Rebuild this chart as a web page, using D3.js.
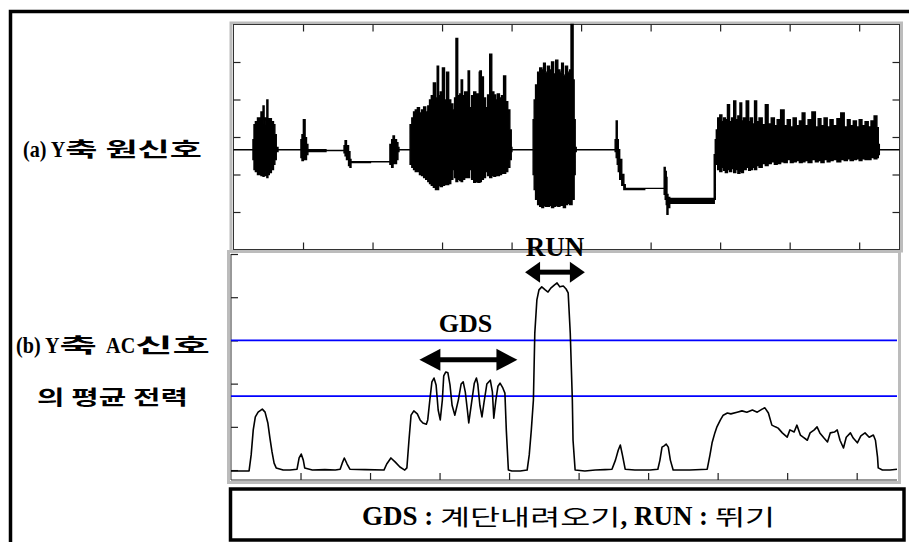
<!DOCTYPE html>
<html>
<head>
<meta charset="utf-8">
<script src="https://cdn.jsdelivr.net/npm/d3@7"></script>
<style>
  body { margin: 0; background: #fff; }
</style>
</head>
<body>
<div id="chart"></div>
<script>
// (a) raw Y-axis signal, drawn as a min/max envelope (time in tick units)
const rawT = [0.00,0.27,0.29,0.30,0.33,0.36,0.39,0.40,0.42,0.43,0.45,0.46,0.47,0.49,0.50,0.53,0.56,0.59,0.60,0.63,0.65,
  0.96,0.98,0.99,1.02,1.04,1.06,1.08,
  1.58,1.60,1.61,1.64,1.67,1.68,1.70,
  2.24,2.26,2.29,2.30,2.33,2.36,2.37,2.39,
  2.53,2.55,2.58,2.60,2.63,2.66,2.69,2.72,2.75,2.78,2.81,2.83,2.86,2.89,2.92,2.94,2.96,2.99,3.02,3.05,
  3.08,3.11,3.14,3.17,3.19,3.21,3.24,3.27,3.28,3.31,3.34,3.37,3.38,3.41,3.44,3.47,3.50,3.53,3.54,3.55,
  3.58,3.61,3.64,3.67,3.70,3.73,3.76,3.78,3.81,3.84,3.87,3.90,3.93,3.96,3.99,4.00,4.01,
  4.30,4.32,4.33,4.36,4.39,4.42,4.45,4.47,4.50,4.53,4.56,4.59,4.62,4.65,4.68,4.71,4.73,4.76,4.79,4.82,
  4.85,4.86,4.88,4.89,4.91,4.92,4.94,
  5.48,5.50,5.51,5.53,5.54,5.57,5.60,5.63,5.64,
  6.19,6.20,6.22,6.23,6.24,6.26,6.29,
  6.91,6.92,6.94,6.95,6.98,7.01,7.04,7.06,7.09,7.12,7.15,7.18,7.21,7.24,7.27,7.30,7.32,7.35,7.40,7.42,
  7.45,7.48,7.51,7.54,7.58,7.63,7.67,7.71,7.76,7.80,7.84,7.90,7.94,7.99,8.03,8.07,8.12,8.16,8.20,8.24,
  8.29,8.35,8.39,8.43,8.47,8.52,8.56,8.60,8.65,8.71,8.76,8.81,8.85,8.89,8.94,8.98,9.02,9.06,9.11,9.15,
  9.19,9.24,9.27,9.28,9.30,9.58];
const rawHi = [-0.34,-0.34,-0.07,0.33,0.41,0.51,0.41,0.67,0.35,0.83,0.46,0.51,0.33,0.99,0.46,0.49,0.41,0.33,0.06,-0.28,-0.34,
  -0.34,-0.07,0.06,0.46,-0.02,-0.20,-0.34,
  -0.36,-0.23,-0.10,-0.23,-0.39,-0.60,-0.66,
  -0.66,-0.20,-0.07,0.03,-0.07,-0.15,-0.28,-0.34,
  -0.34,0.33,0.51,0.67,0.72,0.78,0.64,0.72,0.80,0.67,0.83,0.99,1.10,1.44,1.04,1.89,1.10,1.20,1.84,0.99,
  1.73,0.99,0.88,0.72,1.04,2.63,1.10,1.15,1.52,1.10,1.20,1.04,1.76,0.78,1.10,1.20,1.15,1.10,1.73,1.76,
  1.60,1.04,0.78,1.12,2.21,1.20,1.12,0.99,1.15,1.04,1.10,1.63,0.94,0.72,0.19,-0.28,-0.34,
  -0.34,0.46,0.99,1.39,1.73,1.84,1.79,1.97,1.73,1.89,1.79,2.00,1.68,2.05,1.79,1.73,1.97,1.65,1.89,1.73,
  1.79,3.00,3.00,1.52,0.46,-0.28,-0.34,
  -0.34,-0.07,0.43,-0.07,-0.34,-0.60,-1.00,-1.27,-1.37,
  -1.37,-0.81,-0.92,-1.08,-1.53,-1.61,-1.64,
  -1.64,-0.47,-0.07,0.19,0.51,0.59,0.41,0.51,0.46,0.86,0.41,0.51,0.96,0.46,0.56,0.91,0.43,0.51,0.96,0.41,
  0.51,0.35,0.96,0.41,0.51,0.33,0.86,0.35,0.51,0.30,0.46,0.72,0.30,0.46,0.27,0.51,0.30,0.43,0.64,0.30,
  0.46,0.67,0.27,0.49,0.30,0.51,0.27,0.46,0.30,0.49,0.64,0.27,0.46,0.30,0.43,0.27,0.46,0.30,0.41,0.27,
  0.43,0.56,0.25,-0.20,-0.34,-0.34];
const rawLo = [-0.34,-0.34,-0.60,-0.87,-0.92,-1.00,-0.97,-1.03,-0.92,-1.05,-0.97,-1.03,-0.92,-1.08,-1.00,-0.95,-0.87,-0.73,-0.60,-0.39,-0.34,
  -0.34,-0.55,-0.63,-0.60,-0.60,-0.47,-0.39,
  -0.36,-0.42,-0.50,-0.60,-0.76,-0.81,-0.68,
  -0.66,-0.73,-0.81,-0.68,-0.71,-0.60,-0.39,-0.34,
  -0.34,-0.73,-0.81,-0.87,-0.92,-0.92,-1.00,-1.03,-1.08,-1.13,-1.19,-1.24,-1.29,-1.34,-1.40,-1.40,-1.29,-1.32,-1.29,-1.27,
  -1.27,-1.24,-1.13,-0.87,-1.08,-1.19,-1.13,-1.16,-1.19,-1.13,-1.08,-1.08,-1.08,-0.87,-1.13,-1.21,-1.19,-1.21,-1.21,-1.19,
  -1.13,-1.08,-0.92,-1.03,-1.08,-1.03,-1.05,-1.03,-1.03,-1.00,-0.97,-0.97,-0.92,-0.81,-0.60,-0.39,-0.34,
  -0.34,-1.00,-1.40,-1.66,-1.80,-1.85,-1.88,-1.82,-1.85,-1.85,-1.82,-1.88,-1.85,-1.82,-1.85,-1.82,-1.82,-1.88,-1.80,-1.77,
  -1.80,-1.80,-1.66,-1.66,-1.00,-0.39,-0.34,
  -0.34,-0.39,-0.55,-0.73,-0.92,-1.13,-1.29,-1.40,-1.40,
  -1.37,-1.53,-1.66,-1.80,-2.06,-1.88,-1.77,
  -1.77,-1.66,-0.60,-0.73,-0.87,-0.92,-0.81,-0.89,-0.95,-0.87,-0.92,-0.84,-0.95,-0.87,-0.97,-0.92,-0.95,-0.87,-0.81,-0.89,
  -0.87,-0.81,-0.87,-0.76,-0.81,-0.71,-0.76,-0.71,-0.66,-0.73,-0.71,-0.66,-0.68,-0.60,-0.68,-0.66,-0.63,-0.68,-0.66,-0.63,
  -0.68,-0.60,-0.66,-0.63,-0.68,-0.60,-0.66,-0.63,-0.60,-0.66,-0.60,-0.63,-0.58,-0.63,-0.60,-0.58,-0.63,-0.58,-0.60,-0.60,
  -0.55,-0.58,-0.55,-0.47,-0.34,-0.34];

// (b) mean power of the AC part
const powT = [0.00,0.26,0.29,0.32,0.35,0.39,0.45,0.49,0.53,0.56,0.59,0.62,0.65,0.75,0.85,0.95,0.98,1.01,1.04,1.06,
  1.17,1.35,1.50,1.57,1.60,1.63,1.67,1.71,1.93,2.20,2.24,2.30,2.36,2.43,2.50,2.53,2.56,2.59,2.63,2.68,
  2.72,2.76,2.81,2.83,2.86,2.89,2.92,2.95,2.98,3.01,3.04,3.06,3.09,3.12,3.15,3.18,3.22,3.27,3.31,3.34,
  3.37,3.40,3.42,3.45,3.50,3.53,3.55,3.58,3.61,3.64,3.68,3.73,3.76,3.78,3.81,3.84,3.87,3.91,3.94,3.96,
  3.99,4.04,4.16,4.26,4.29,4.32,4.35,4.37,4.40,4.43,4.47,4.52,4.56,4.60,4.65,4.69,4.73,4.78,4.82,4.85,
  4.88,4.91,4.92,4.95,5.09,5.24,5.38,5.48,5.53,5.57,5.60,5.63,5.67,5.81,6.03,6.14,6.17,6.20,6.23,6.26,
  6.29,6.32,6.36,6.60,6.85,6.89,6.92,6.96,6.99,7.04,7.08,7.14,7.19,7.28,7.35,7.42,7.50,7.57,7.64,7.68,
  7.73,7.78,7.83,7.87,7.93,8.00,8.04,8.10,8.14,8.19,8.23,8.29,8.33,8.39,8.43,8.47,8.53,8.58,8.62,8.68,
  8.72,8.76,8.81,8.85,8.91,8.95,9.01,9.06,9.12,9.18,9.24,9.27,9.30,9.31,9.37,9.48,9.58];
const powV = [-0.02,-0.02,0.35,0.93,1.23,1.34,1.41,1.34,1.09,0.74,0.42,0.16,0.05,0.00,0.00,0.02,0.28,0.37,0.23,0.05,
  0.00,0.01,0.00,0.02,0.16,0.28,0.14,0.02,0.01,0.00,0.14,0.28,0.19,0.07,0.00,0.05,0.69,1.27,1.37,1.30,
  1.16,1.09,1.06,1.16,1.62,2.04,2.13,1.97,1.39,1.16,1.62,2.18,2.27,2.25,1.97,1.50,1.27,1.62,1.99,2.04,
  1.81,1.39,1.09,1.44,2.01,2.13,1.99,1.50,1.23,1.57,1.99,2.08,1.81,1.20,1.62,1.94,2.01,1.90,1.78,0.93,
  0.00,-0.02,-0.02,0.00,0.35,0.93,1.62,3.17,3.94,4.17,4.24,4.17,4.12,4.21,4.28,4.33,4.24,4.26,4.19,4.10,
  3.17,1.62,0.69,0.00,-0.02,0.00,0.01,0.02,0.23,0.46,0.58,0.35,0.02,0.00,0.00,0.02,0.23,0.53,0.56,0.60,
  0.53,0.23,0.00,0.00,0.02,0.35,0.63,0.86,1.00,1.16,1.27,1.32,1.30,1.34,1.37,1.34,1.39,1.34,1.41,1.44,
  1.32,1.04,1.00,0.97,0.86,0.76,0.93,0.88,1.04,0.81,0.76,0.69,0.86,0.93,1.00,0.86,0.74,0.65,0.86,0.88,
  0.93,0.69,0.51,0.76,0.86,0.74,0.63,0.79,0.86,0.76,0.81,0.69,0.30,0.05,0.00,0.00,0.02];

const thresholds = [3.0, 1.71];
const xTicks = [1, 2, 3, 4, 5, 6, 7, 8, 9];
const rawTicks = [-2, -1, 0, 1, 2];
const powTicks = [0, 1, 2, 3, 4, 5];
// label text split into latin (true) / hangul (false) runs
const rowLabels = [
  [["(a) Y", true], ["축 원신호", false]],
  [["(b) Y", true], ["축 ", false], ["AC", true], ["신호", false]],
  [["의 평균 전력", false]]
];
const activities = [
  {name: "GDS", from: 2.71, to: 4.12, level: 2.55},
  {name: "RUN", from: 4.23, to: 5.09, level: 4.58}
];
const legendParts = [["GDS : ", true], ["계단내려오기", false], [", RUN : ", true], ["뛰기", false]];

const W = 909, H = 542;
const serif = "'Liberation Serif', 'Times New Roman', serif";
const hangul = "'Noto Sans CJK KR', sans-serif";

const svg = d3.select("#chart").append("svg")
    .attr("width", W)
    .attr("height", H);

svg.append("rect").attr("width", W).attr("height", H).attr("fill", "#fff");

// outer frame (runs off the right/bottom edge like the scan)
svg.append("rect")
    .attr("x", 10.5).attr("y", 11.5)
    .attr("width", 920).attr("height", 560)
    .attr("fill", "none").attr("stroke", "#000").attr("stroke-width", 3.5);

// scales
const xA = d3.scaleLinear().domain([0, 9.58]).range([233.5, 899.5]);
const yA = d3.scaleLinear().domain([-3, 3]).range([249.5, 24.5]);
const xB = d3.scaleLinear().domain([0, 9.58]).range([231, 897]);
const yB = d3.scaleLinear().domain([-0.23, 5]).range([480, 254]);

// panel frames
svg.append("rect")
    .attr("x", 231).attr("y", 23).attr("width", 670.5).attr("height", 228)
    .attr("fill", "none").attr("stroke", "#bcbcbc").attr("stroke-width", 3);
svg.append("rect")
    .attr("x", xA.range()[0]).attr("y", yA.range()[1])
    .attr("width", xA.range()[1] - xA.range()[0]).attr("height", yA.range()[0] - yA.range()[1])
    .attr("fill", "none").attr("stroke", "#333").attr("stroke-width", 1);

svg.append("rect")
    .attr("x", 228.5).attr("y", 251.5).attr("width", 671).attr("height", 231)
    .attr("fill", "#fff").attr("stroke", "#bcbcbc").attr("stroke-width", 3);
svg.append("path")
    .attr("d", `M${xB.range()[0]},${yB.range()[1]}V${yB.range()[0]}H${xB.range()[1]}`)
    .attr("fill", "none").attr("stroke", "#333").attr("stroke-width", 1);

// tick marks only, no labels
function ticks(g, axis) {
  g.call(axis);
  g.select(".domain").remove();
  g.selectAll(".tick text").remove();
  g.selectAll(".tick line").attr("stroke", "#222").attr("stroke-width", 1.2);
}
svg.append("g").attr("transform", `translate(0,${yA.range()[1]})`)
    .call(g => ticks(g, d3.axisBottom(xA).tickValues(xTicks).tickSize(7)));
svg.append("g").attr("transform", `translate(0,${yA.range()[0]})`)
    .call(g => ticks(g, d3.axisTop(xA).tickValues(xTicks).tickSize(7)));
svg.append("g").attr("transform", `translate(${xA.range()[0]},0)`)
    .call(g => ticks(g, d3.axisRight(yA).tickValues(rawTicks).tickSize(7)));
svg.append("g").attr("transform", `translate(${xA.range()[1]},0)`)
    .call(g => ticks(g, d3.axisLeft(yA).tickValues(rawTicks).tickSize(7)));
svg.append("g").attr("transform", `translate(${xB.range()[0]},0)`)
    .call(g => ticks(g, d3.axisRight(yB).tickValues(powTicks).tickSize(7)));
svg.append("g").attr("transform", `translate(0,${yB.range()[0]})`)
    .call(g => ticks(g, d3.axisTop(xB).tickValues(xTicks).tickSize(7)));

// raw signal envelope, stepped so the peaks read as vertical spikes
const rawData = d3.range(Math.min(rawT.length, rawHi.length, rawLo.length))
    .map(i => ({t: rawT[i], hi: rawHi[i], lo: rawLo[i]}));
svg.append("path")
    .datum(rawData)
    .attr("d", d3.area().curve(d3.curveStep).x(d => xA(d.t)).y0(d => yA(d.lo)).y1(d => yA(d.hi)))
    .attr("fill", "#000")
    .attr("stroke", "#000")
    .attr("stroke-width", 1.4)
    .attr("stroke-linejoin", "miter");

// threshold lines
svg.append("g").selectAll("line")
  .data(thresholds)
  .join("line")
    .attr("x1", xB.range()[0]).attr("x2", xB.range()[1])
    .attr("y1", d => yB(d)).attr("y2", d => yB(d))
    .attr("stroke", "#0000ff").attr("stroke-width", 1.6);

// mean power line
const powData = d3.range(Math.min(powT.length, powV.length)).map(i => ({t: powT[i], v: powV[i]}));
svg.append("path")
    .datum(powData)
    .attr("d", d3.line().x(d => xB(d.t)).y(d => yB(d.v)))
    .attr("fill", "none")
    .attr("stroke", "#000")
    .attr("stroke-width", 1.6)
    .attr("stroke-linejoin", "round");

// activity arrows + names
const arrowStyle = {GDS: {head: 21, half: 11, shaft: 5, font: 26}, RUN: {head: 15, half: 10.5, shaft: 5, font: 27}};
activities.forEach(a => {
  const s = arrowStyle[a.name];
  const x1 = xB(a.from), x2 = xB(a.to), y = yB(a.level);
  const g = svg.append("g");
  g.append("line")
      .attr("x1", x1 + s.head - 1).attr("x2", x2 - s.head + 1)
      .attr("y1", y).attr("y2", y)
      .attr("stroke", "#000").attr("stroke-width", s.shaft);
  g.append("path")
      .attr("d", `M${x1},${y}L${x1 + s.head},${y - s.half}L${x1 + s.head},${y + s.half}Z`)
      .attr("fill", "#000");
  g.append("path")
      .attr("d", `M${x2},${y}L${x2 - s.head},${y - s.half}L${x2 - s.head},${y + s.half}Z`)
      .attr("fill", "#000");
  g.append("text")
      .attr("x", (x1 + x2) / 2 + (a.name === "GDS" ? -3 : 0))
      .attr("y", a.name === "GDS" ? y - 28 : y - 16)
      .attr("text-anchor", "middle")
      .attr("font-family", serif)
      .attr("font-weight", "bold")
      .attr("font-size", s.font)
      .text(a.name);
});

// mixed latin / hangul text; latin runs get a fixed squeeze, hangul runs fill the rest of the width
function mixedText(parts, cx, y, latinSize, latinSx, hangulSize, width, hangulWeight) {
  const g = svg.append("g");
  const runs = parts.map(([str, latin]) => {
    const t = g.append("text")
        .style("white-space", "pre")
        .attr("font-family", latin ? serif : hangul)
        .attr("font-weight", latin ? "bold" : hangulWeight)
        .attr("font-size", latin ? latinSize : hangulSize)
        .text(str);
    return {t, latin, w: t.node().getComputedTextLength()};
  });
  const wl = d3.sum(runs.filter(r => r.latin), r => r.w * latinSx);
  const wk = d3.sum(runs.filter(r => !r.latin), r => r.w);
  const k = wk > 0 ? (width - wl) / wk : 1;
  let x = cx - width / 2;
  runs.forEach(r => {
    const sx = r.latin ? latinSx : k;
    r.t.attr("transform", `translate(${x},${y}) scale(${sx},1)`);
    x += r.w * sx;
  });
}

// row labels on the left
mixedText(rowLabels[0], 112.5, 157, 24, 0.84, 20, 179, "bold");
mixedText(rowLabels[1], 113, 353, 24, 0.84, 20, 194, "bold");
mixedText(rowLabels[2], 112.5, 405, 24, 0.84, 20, 151, "bold");

// legend box
svg.append("rect")
    .attr("x", 230.5).attr("y", 489)
    .attr("width", 673.5).attr("height", 51)
    .attr("fill", "#fff").attr("stroke", "#000").attr("stroke-width", 3.5);
mixedText(legendParts, 568.5, 525, 27, 1, 22, 413, "normal");
</script>
</body>
</html>
